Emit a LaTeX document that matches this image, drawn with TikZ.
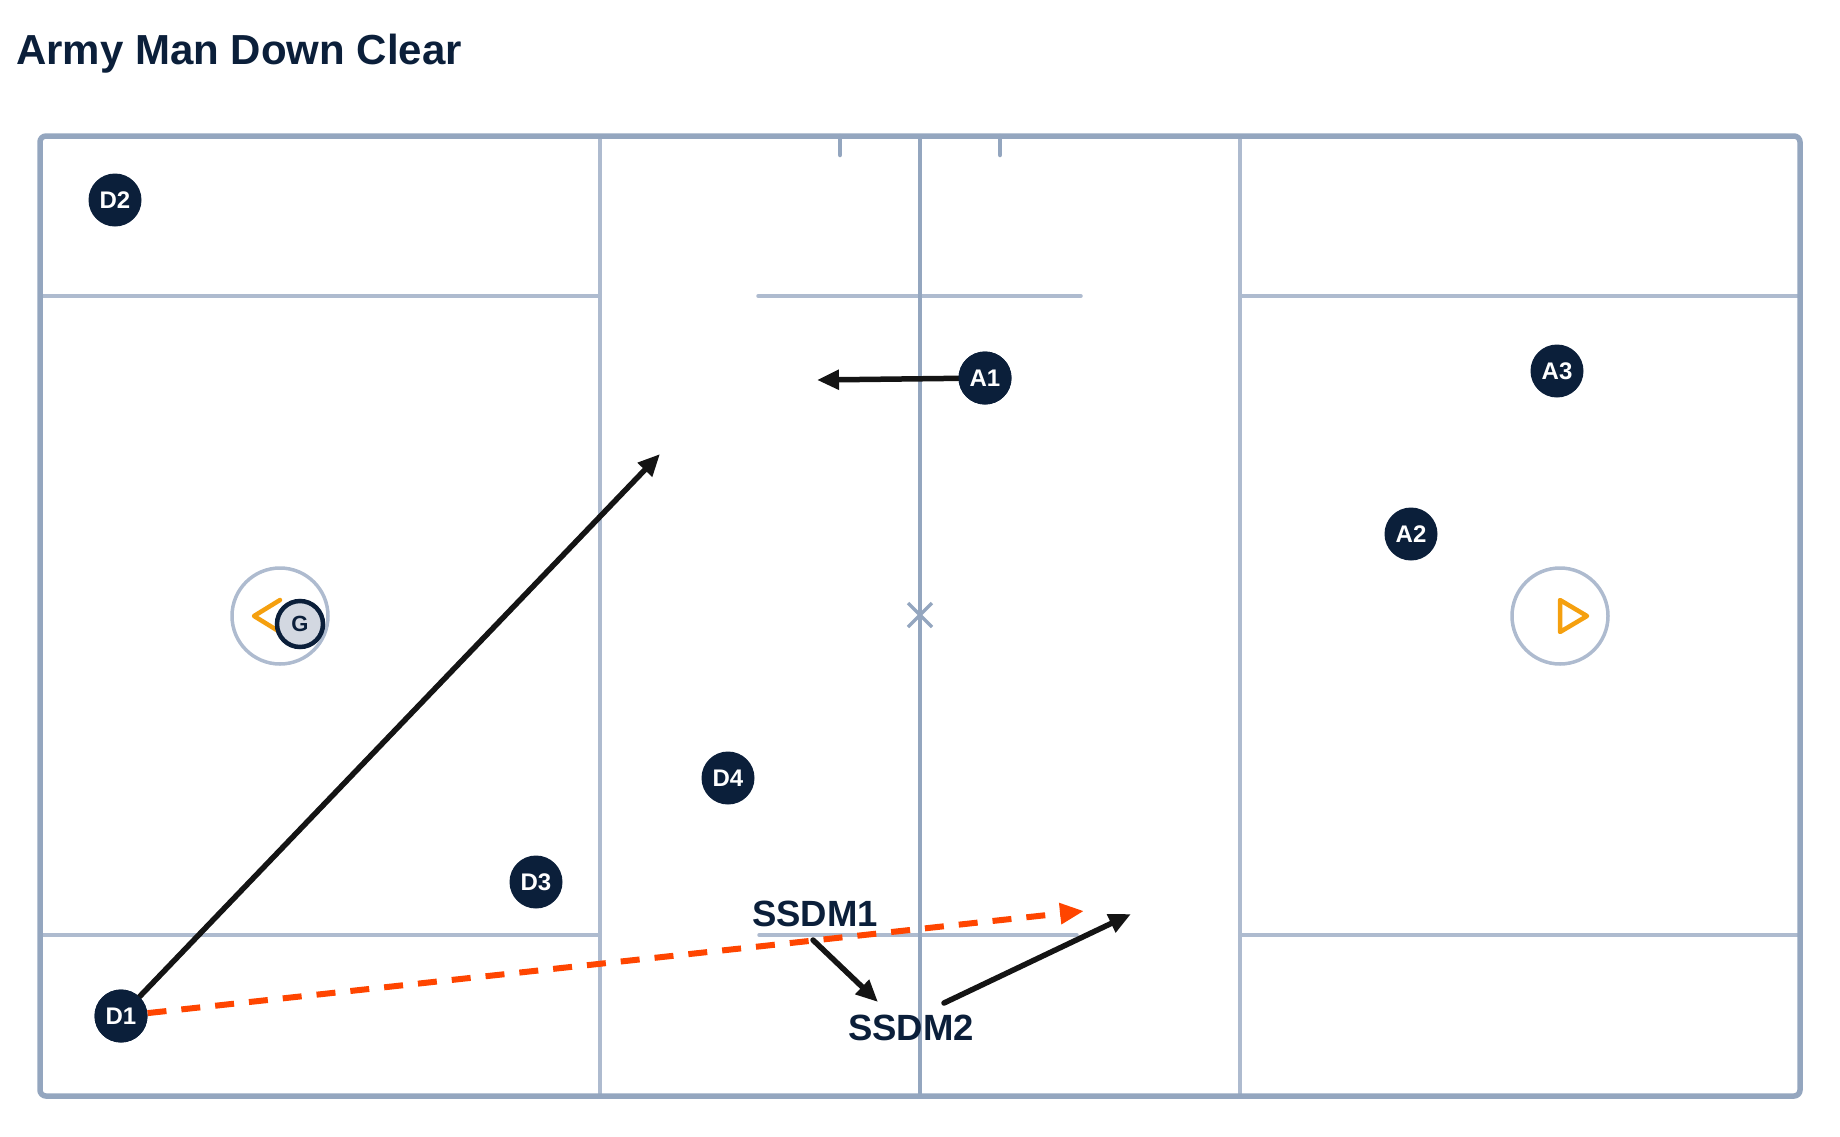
\documentclass[tikz,border=0pt]{standalone}
\usepackage{fontspec}
\setmainfont{Liberation Sans}
\usetikzlibrary{arrows.meta}
\definecolor{navy}{HTML}{0B1F3A}
\definecolor{fieldA}{HTML}{94A6BF}
\definecolor{fieldB}{HTML}{AEBBCF}
\definecolor{goalorange}{HTML}{F5A00F}
\definecolor{passorange}{HTML}{FF4500}
\definecolor{arrowblack}{HTML}{141414}
\definecolor{gfill}{HTML}{D3D8E1}
\tikzset{
  outerline/.style={draw=fieldA, line width=5.5pt, rounded corners=6pt},
  mainline/.style={draw=fieldA, line width=4.5pt},
  innerline/.style={draw=fieldB, line width=3.5pt, line cap=round},
  goalcircle/.style={draw=fieldB, line width=3.5pt},
  goaltri/.style={draw=goalorange, line width=4.5pt, line join=round, line cap=round},
  player/.style={circle, fill=navy, text=white, font=\bfseries\fontsize{24}{26}\selectfont, minimum size=53pt, inner sep=0pt},
  goalie/.style={circle, fill=gfill, draw=navy, line width=4.5pt, text=navy, font=\bfseries\fontsize{22}{24}\selectfont, minimum size=46pt, inner sep=0pt},
  lbl/.style={text=navy, font=\bfseries\fontsize{36.5}{40}\selectfont, inner sep=0pt},
  run/.style={draw=arrowblack, line width=5.5pt, line cap=round, -{Triangle[length=22pt,width=19pt]}},
  pass/.style={draw=passorange, line width=6pt, dash pattern=on 19pt off 15pt, -{Triangle[length=24pt,width=20pt]}},
}
\begin{document}
\begin{tikzpicture}[x=1pt,y=-1pt]
\useasboundingbox (0,0) rectangle (1840,1136);
% title
\node[anchor=west, text=navy, font=\bfseries\fontsize{42}{48}\selectfont, inner sep=0pt] (title) at (16,54) {Army Man Down Clear};
% field
\draw[innerline] (600,136) -- (600,1096);
\draw[innerline] (1240,136) -- (1240,1096);
\draw[innerline] (40,296) -- (600,296);
\draw[innerline] (1240,296) -- (1800,296);
\draw[innerline] (758,296) -- (1081,296);
\draw[innerline] (40,935) -- (600,935);
\draw[innerline] (1240,935) -- (1800,935);
\draw[innerline] (759,935) -- (1077,935);
\draw[mainline, line cap=round] (840,136) -- (840,155);
\draw[mainline, line cap=round] (1000,136) -- (1000,155);
\draw[mainline] (920,136) -- (920,1096);
\draw[outerline] (40,136) rectangle (1800,1096);
% center X
\draw[draw=fieldA, line width=3.5pt] (908,603) -- (932,627) (908,627) -- (932,603);
% goals
\draw[goalcircle] (280,616) circle (48);
\draw[goalcircle] (1560,616) circle (48);
\draw[goaltri] (280,600) -- (254,616) -- (280,632);
\draw[goaltri] (1560,600) -- (1587,616) -- (1560,632) -- cycle;
\node[goalie] (G) at (300,624) {G};
% players
\node[player] (D1) at (121,1016) {D1};
\node[player] (D2) at (115,200) {D2};
\node[player] (D3) at (536,882) {D3};
\node[player] (D4) at (728,778) {D4};
\node[player] (A1) at (985,378) {A1};
\node[player] (A2) at (1411,534) {A2};
\node[player] (A3) at (1557,371) {A3};
% labels
\node[lbl] (ssdm1) at (815,914) {SSDM1};
\node[lbl] (ssdm2) at (911,1028) {SSDM2};
% free ends
\coordinate (a1end) at (817,380);
\coordinate (d1end) at (660,454);
\coordinate (passend) at (1084,911);
\coordinate (s1start) at (813,940);
\coordinate (s1end) at (878,1002);
\coordinate (s2start) at (944,1003);
\coordinate (s2end) at (1131,914);
% arrows
\draw[pass] (D1) -- (passend);
\draw[run] (A1) -- (a1end);
\draw[run] (D1) -- (d1end);
\draw[run] (s1start) -- (s1end);
\draw[run] (s2start) -- (s2end);
\node[player] at (D1) {D1};
\node[player] at (A1) {A1};
\end{tikzpicture}
\end{document}
